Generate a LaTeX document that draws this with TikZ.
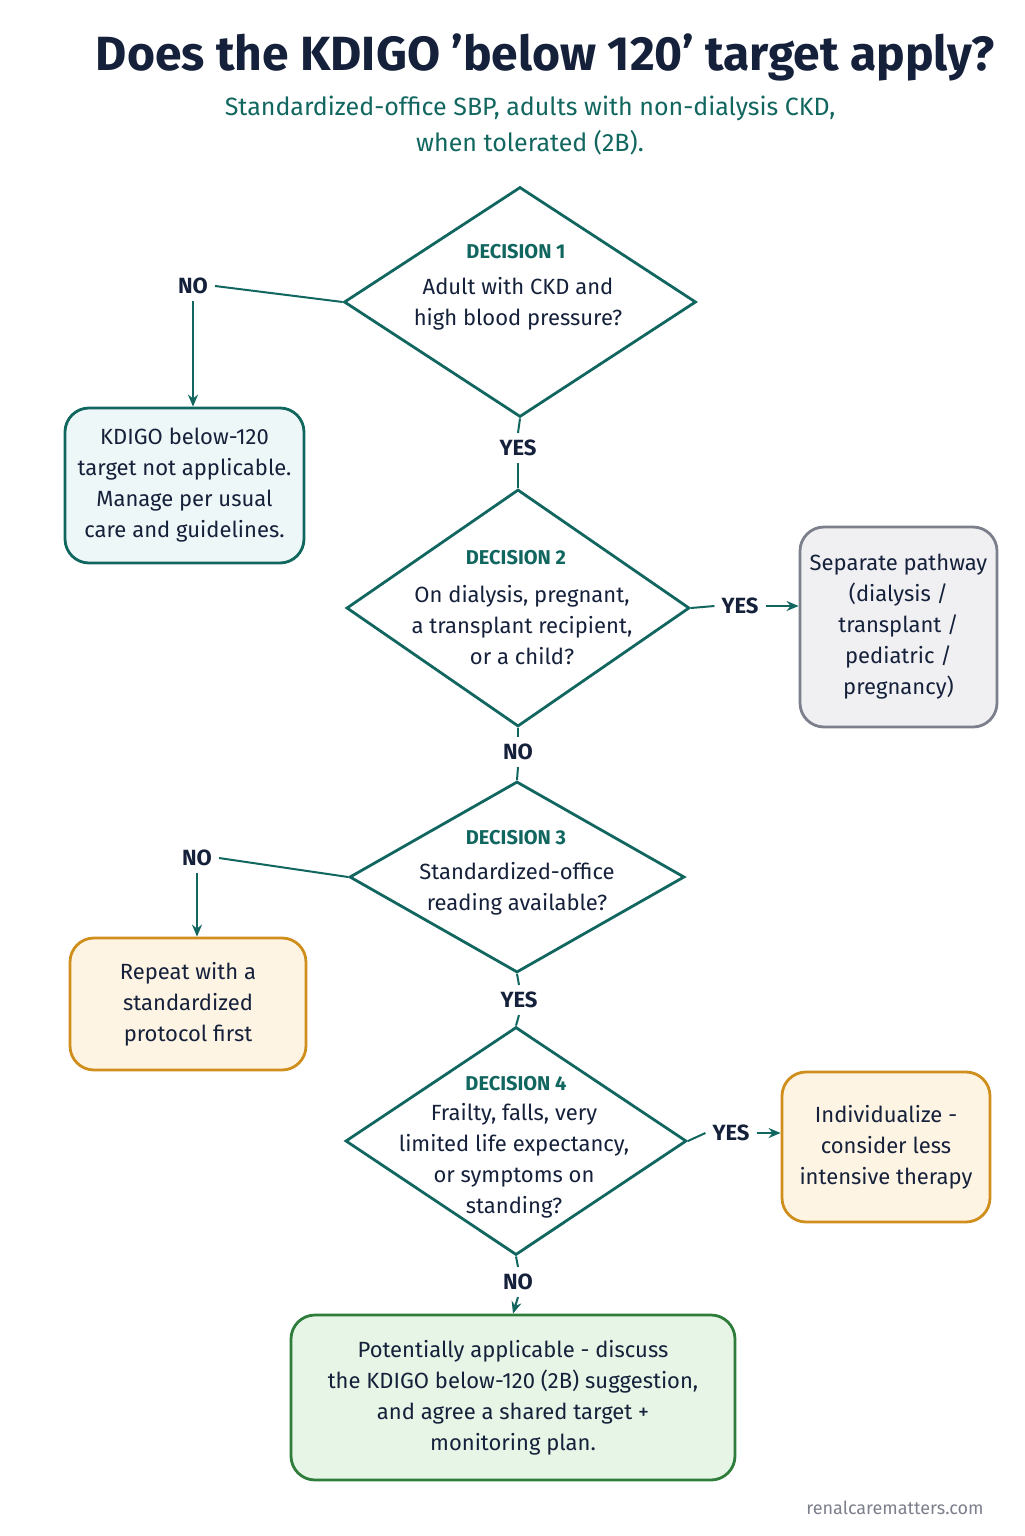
\documentclass[tikz,border=0pt]{standalone}
\usepackage{fontspec}
\setmainfont{Fira Sans}
\usetikzlibrary{shapes.geometric,arrows.meta}
\definecolor{teal1}{HTML}{11665F}
\definecolor{navy}{HTML}{15203A}
\definecolor{orng}{HTML}{D08F1C}
\definecolor{orngbg}{HTML}{FEF4E3}
\definecolor{grn}{HTML}{2E7D3A}
\definecolor{grnbg}{HTML}{E6F5E6}
\definecolor{gry}{HTML}{7C7F8C}
\definecolor{grybg}{HTML}{F0F0F3}
\definecolor{tealbg}{HTML}{EEF7F7}
\tikzset{
 dia/.style={diamond,draw=teal1,line width=1.4pt,fill=white,inner sep=0pt},
 dtxt/.style={align=center,text=navy,font=\fontsize{11}{15.5}\selectfont},
 dhead/.style={text=teal1,font=\fontsize{10}{12}\selectfont\bfseries},
 lab/.style={text=navy,font=\fontsize{11}{13}\selectfont\bfseries},
 box/.style={rounded corners=12pt,line width=1.4pt,align=center,text=navy,font=\fontsize{11}{15.5}\selectfont},
 con/.style={draw=teal1,line width=1pt},
 arr/.style={con,-{Stealth[length=6pt,width=5pt]}}
}
\begin{document}
\begin{tikzpicture}[x=0.5pt,y=-0.5pt]
\useasboundingbox (0,0) rectangle (1024,1536);
\node[text=navy,font=\fontsize{24}{28}\selectfont\bfseries] (title) at (545,57) {Does the KDIGO \char"27 below 120’ target apply?};
\node[text=teal1,align=center,font=\fontsize{12.5}{18}\selectfont] (sub) at (530,126) {Standardized-office SBP, adults with non-dialysis CKD,\\when tolerated (2B).};
% decision 1
\node[dia,minimum width=176pt,minimum height=115pt] (d1) at (520,302) {};
\node[dhead] (d1h) at (516,252) {DECISION 1};
\node[dtxt] (d1t) at (518,304) {Adult with CKD and\\high blood pressure?};
\node[lab] (no1) at (193,286) {NO};
\node[box,draw=teal1,fill=tealbg,minimum width=119.5pt,minimum height=77.5pt] (b1) at (184.5,485.5) {KDIGO below-120\\target not applicable.\\Manage per usual\\care and guidelines.};
\draw[con] (d1.west) -- (no1.east);
\draw[arr] (no1.south) -- (b1.north -| no1.south);
\node[lab] (yes1) at (518,448) {YES};
% decision 2
\node[dia,minimum width=171.5pt,minimum height=118.5pt] (d2) at (518,608) {};
\draw[con] (d1.south) -- (yes1.north);
\draw[con] (yes1.south) -- (d2.north);
\node[dhead] (d2h) at (516,558) {DECISION 2};
\node[dtxt] (d2t) at (522,625) {On dialysis, pregnant,\\a transplant recipient,\\or a child?};
\node[lab] (yes2) at (740,606) {YES};
\node[box,draw=gry,fill=grybg,minimum width=98.5pt,minimum height=100pt] (b2) at (898.5,627) {Separate pathway\\(dialysis /\\transplant /\\pediatric /\\pregnancy)};
\draw[con] (d2.east) -- (yes2.west);
\draw[arr] (yes2.east) -- (b2.west |- yes2.east);
\node[lab] (no2) at (518,752) {NO};
% decision 3
\node[dia,minimum width=167.5pt,minimum height=95.5pt] (d3) at (517,877) {};
\draw[con] (d2.south) -- (no2.north);
\draw[con] (no2.south) -- (d3.north);
\node[dhead] (d3h) at (516,838) {DECISION 3};
\node[dtxt] (d3t) at (517,889) {Standardized-office\\reading available?};
\node[lab] (no3) at (197,858) {NO};
\node[box,draw=orng,fill=orngbg,minimum width=118pt,minimum height=66pt] (b3) at (188,1004) {Repeat with a\\standardized\\protocol first};
\draw[con] (d3.west) -- (no3.east);
\draw[arr] (no3.south) -- (b3.north -| no3.south);
\node[lab] (yes3) at (519,1000) {YES};
% decision 4
\node[dia,minimum width=170.5pt,minimum height=114pt] (d4) at (516,1141) {};
\draw[con] (d3.south) -- (yes3.north);
\draw[con] (yes3.south) -- (d4.north);
\node[dhead] (d4h) at (516,1084) {DECISION 4};
\node[dtxt] (d4t) at (514,1161) {Frailty, falls, very\\limited life expectancy,\\or symptoms on\\standing?};
\node[lab] (yes4) at (731,1133) {YES};
\node[box,draw=orng,fill=orngbg,minimum width=104pt,minimum height=75pt] (b4) at (886,1147) {Individualize -\\consider less\\intensive therapy};
\draw[con] (d4.east) -- (yes4.west);
\draw[arr] (yes4.east) -- (b4.west |- yes4.east);
\node[lab] (no4) at (518,1282) {NO};
\node[box,draw=grn,fill=grnbg,minimum width=222pt,minimum height=82.5pt] (b5) at (513,1397.5) {Potentially applicable - discuss\\the KDIGO below-120 (2B) suggestion,\\and agree a shared target +\\monitoring plan.};
\draw[con] (d4.south) -- (no4.north);
\draw[arr] (no4.south) -- (b5.north);
\node[text=gry,font=\fontsize{9}{11}\selectfont] (foot) at (895,1508) {renalcarematters.com};
\end{tikzpicture}
\end{document}
